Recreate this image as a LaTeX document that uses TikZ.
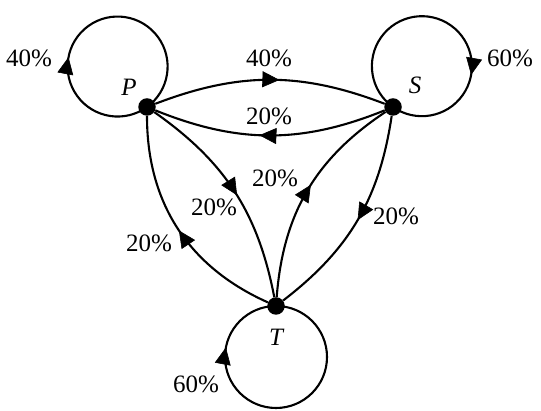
\documentclass[tikz,border=0pt]{standalone}
\usepackage{fontspec}
\setmainfont{Liberation Serif}
\usetikzlibrary{arrows.meta,decorations.markings}
\tikzset{
  dot/.style={circle,fill=black,inner sep=0pt,minimum size=17.5pt},
  edge/.style={line width=2.1pt},
  lbl/.style={inner sep=0pt,font=\fontsize{25}{25}\selectfont},
  vlbl/.style={inner sep=0pt,font=\fontsize{25}{25}\selectfont\itshape},
  midarrow/.style={postaction={decorate},decoration={markings,mark=at position #1 with {\arrow[line width=0.6pt]{Triangle[length=17pt,width=16pt]}}}},
}
\begin{document}
\begin{tikzpicture}[x=1pt,y=1pt]
\useasboundingbox (0,0) rectangle (541,411);
\node[dot] (P) at (147,304) {};
\node[dot] (S) at (393,304) {};
\node[dot] (T) at (276,105) {};
% edges
\draw[edge,midarrow=0.54] (P) to[bend left=21] (S);
\draw[edge,midarrow=0.545] (S) to[bend left=22] (P);
\draw[edge,midarrow=0.49] (T) to[bend left=33] (P);
\draw[edge,midarrow=0.52] (P) to[bend left=22] (T);
\draw[edge,midarrow=0.53] (T) to[bend left=26] (S);
\draw[edge,midarrow=0.50] (S) to[bend left=22] (T);
% loops
\draw[edge,midarrow=0.38] (P.center) arc[start angle=306,delta angle=-360,radius=50];
\draw[edge,midarrow=0.68] (S.center) arc[start angle=234.7,delta angle=-360,radius=50];
\draw[edge,midarrow=0.78] (T.center) arc[start angle=90,delta angle=-360,radius=51];
% labels
\node[vlbl] (lP) at (129,324) {P};
\node[vlbl] (lS) at (415,326) {S};
\node[vlbl] (lT) at (276,74) {T};
\node[lbl] (pp) at (29,353) {40\%};
\node[lbl] (ps) at (269,353) {40\%};
\node[lbl] (sp) at (269,295) {20\%};
\node[lbl] (ss) at (510,353) {60\%};
\node[lbl] (ts) at (275,233) {20\%};
\node[lbl] (pt) at (214,204) {20\%};
\node[lbl] (tp) at (149,168) {20\%};
\node[lbl] (st) at (396,195) {20\%};
\node[lbl] (tt) at (196,27) {60\%};
\end{tikzpicture}
\end{document}
